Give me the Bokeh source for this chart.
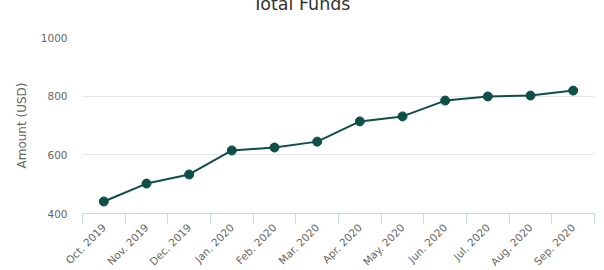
import math
from bokeh.plotting import figure
from bokeh.models import FixedTicker, Range1d, ColumnDataSource, Title
from bokeh.embed import file_html
from bokeh.resources import INLINE

months = ["Oct. 2019", "Nov. 2019", "Dec. 2019", "Jan. 2020", "Feb. 2020", "Mar. 2020",
          "Apr. 2020", "May. 2020", "Jun. 2020", "Jul. 2020", "Aug. 2020", "Sep. 2020"]
amounts = [441, 502, 533, 615, 625, 645, 714, 731, 785, 799, 802, 819]
y_ticks = [400, 600, 800, 1000]

FONT = "DejaVu Sans"
xs = [i + 0.5 for i in range(len(months))]
src = ColumnDataSource(dict(x=xs, y=amounts))

p = figure(frame_width=512, frame_height=176, output_backend="svg", toolbar_location=None,
           x_range=Range1d(0, len(months)), y_range=Range1d(400, 1000),
           min_border_left=82, min_border_right=10, min_border_top=37, min_border_bottom=57,
           title="Total Funds")
p.outline_line_color = None
p.background_fill_color = "white"
p.border_fill_color = "white"

p.title.text_font = FONT
p.title.text_font_size = "17.5px"
p.title.text_font_style = "normal"
p.title.text_color = "#333333"
p.title.align = "left"
p.title.offset = 170
p.title.vertical_align = "top"
p.title.standoff = -16

# empty spacer between title and plot area
spacer = Title(text=" ", text_font=FONT, text_font_size="10px", standoff=17)
p.add_layout(spacer, "above")

p.line("x", "y", source=src, line_color="#0f4f4a", line_width=2)
p.scatter("x", "y", source=src, size=9, fill_color="#0f4f4a", line_color="#0f4f4a")

# x axis
xa = p.xaxis[0]
xa.ticker = FixedTicker(ticks=xs, minor_ticks=list(range(len(months) + 1)))
xa.major_label_overrides = {x: m for x, m in zip(xs, months)}
xa.major_label_orientation = math.pi / 4
xa.major_tick_line_color = None
xa.major_tick_out = 0
xa.major_tick_in = 0
xa.minor_tick_line_color = "#ccd6eb"
xa.minor_tick_out = 10
xa.minor_tick_in = 0
xa.axis_line_color = "#ccd6eb"
xa.major_label_text_font = FONT
xa.major_label_text_font_size = "10.5px"
xa.major_label_text_color = "#666666"
xa.major_label_standoff = 2

# y axis
ya = p.yaxis[0]
ya.ticker = FixedTicker(ticks=y_ticks)
ya.axis_line_color = None
ya.major_tick_line_color = None
ya.major_tick_out = 0
ya.major_tick_in = 0
ya.minor_tick_line_color = None
ya.major_label_text_font = FONT
ya.major_label_text_font_size = "10.5px"
ya.major_label_text_color = "#666666"
ya.major_label_standoff = 15
ya.axis_label = "Amount (USD)"
ya.axis_label_text_font = FONT
ya.axis_label_text_font_size = "12px"
ya.axis_label_text_font_style = "normal"
ya.axis_label_text_color = "#666666"
ya.axis_label_standoff = 9

p.xgrid.grid_line_color = None
p.ygrid.grid_line_color = "#e6e6e6"

open("out.html", "w").write(file_html(p, INLINE))
